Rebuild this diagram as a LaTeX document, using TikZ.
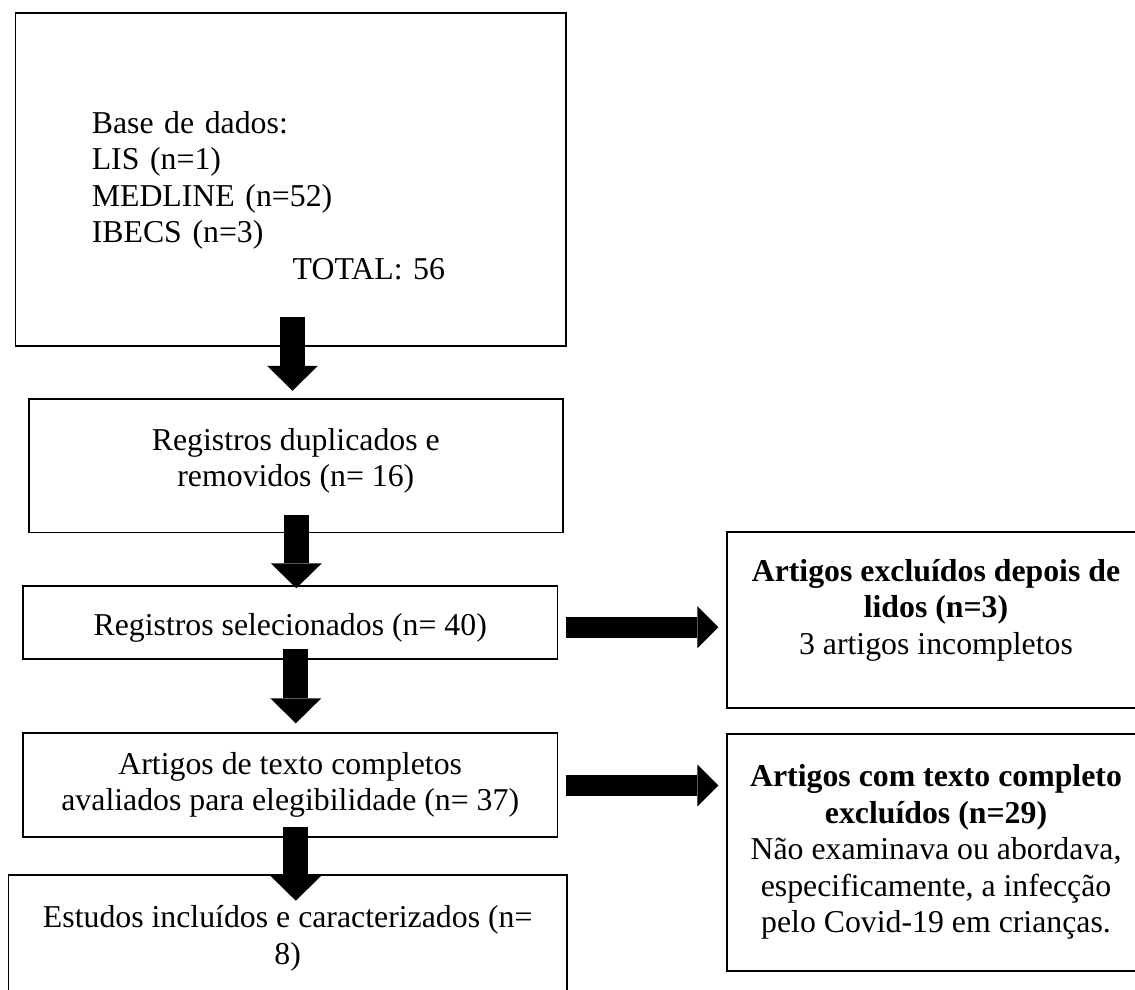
\documentclass[tikz,border=0pt]{standalone}
\usepackage{fontspec}
\setmainfont{Liberation Serif}
\usetikzlibrary{arrows.meta}
\tikzset{
  frame/.style={draw, line width=1.7pt, inner sep=0pt, outer sep=0pt, align=center},
  bigarrow/.style={line width=25pt, -{Triangle[length=25pt,width=51pt,line width=0pt]}},
  sidearrow/.style={line width=21pt, -{Triangle[length=21pt,width=42pt,line width=0pt]}}
}
\newcommand{\dropfoot}[1]{\rule[-#1]{0pt}{0pt}}
\newcommand{\padtop}[1]{\rule{0pt}{#1}}

\begin{document}
\begin{tikzpicture}[x=1pt,y=-1pt,font=\fontsize{31.8pt}{36.5pt}\selectfont]
    \useasboundingbox (0,0) rectangle (1135,989);
    \clip (0,0) rectangle (1135,989);
    \node[frame,minimum width=550.7pt,minimum height=333.3pt,text width=397.8pt,align=left] (base) at (290.7,179.3)
        {\padtop{54pt}Base de dados:\\ LIS (n=1)\\ MEDLINE (n=52)\\ IBECS (n=3)\\ \hspace*{200.9pt}TOTAL: 56};
    \node[frame,minimum width=534.3pt,minimum height=133.3pt] (dup) at (295.8,465.7)
        {Registros duplicados e\\ removidos (n= 16)\dropfoot{16pt}};
    \node[frame,minimum width=534.3pt,minimum height=72.7pt] (sel) at (290.2,622.3)
        {\padtop{33pt}Registros selecionados (n= 40)};
    \node[frame,minimum width=534.3pt,minimum height=103.4pt] (eleg) at (290.2,785)
        {Artigos de texto completos\\ avaliados para elegibilidade (n= 37)};
    \node[frame,minimum width=558.6pt,minimum height=127pt] (incl) at (287.7,938.5)
        {Estudos incluídos e caracterizados (n=\\ 8)};
    \node[frame,minimum width=418pt,minimum height=175.7pt] (exclread) at (936,619.9)
        {\textbf{Artigos excluídos depois de}\\ \textbf{lidos (n=3)}\\ 3 artigos incompletos\dropfoot{26pt}};
    \node[frame,minimum width=418pt,minimum height=236.7pt] (exclfull) at (936,852.3)
        {\textbf{Artigos com texto completo}\\ \textbf{excluídos (n=29)}\\ Não examinava ou abordava,\\ especificamente, a infecção\\ pelo Covid-19 em crianças.};
    \draw[bigarrow] ([xshift=1.8pt,yshift=28.7pt]base.south) -- ([xshift=-3.3pt,yshift=8.3pt]dup.north);
    \draw[bigarrow] ([xshift=0.5pt,yshift=17.3pt]dup.south) -- ([xshift=6.1pt,yshift=-2.3pt]sel.north);
    \draw[bigarrow] ([xshift=5.6pt,yshift=9.4pt]sel.south) -- ([xshift=5.6pt,yshift=10pt]eleg.north);
    \draw[bigarrow] ([xshift=5.6pt,yshift=10pt]eleg.south) -- ([xshift=8.1pt,yshift=-25.7pt]incl.north);
    \draw[sidearrow] ([xshift=8.7pt,yshift=-4.9pt]sel.east) -- ([xshift=-8.7pt,yshift=-7.3pt]exclread.west);
    \draw[sidearrow] ([xshift=8.7pt,yshift=-0.5pt]eleg.east) -- ([xshift=-8.7pt,yshift=66.8pt]exclfull.west);
\end{tikzpicture}
\end{document}
